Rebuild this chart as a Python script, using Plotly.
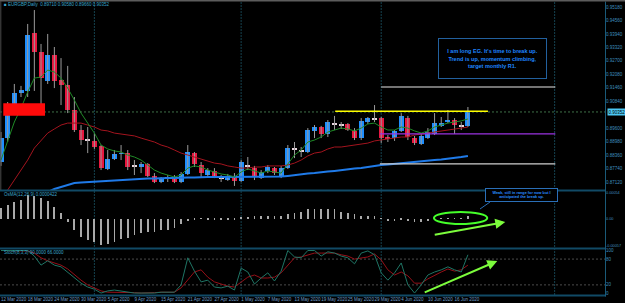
import plotly.graph_objects as go

# ---------------- data ----------------
date_labels = ["12 Mar 2020", "18 Mar 2020", "24 Mar 2020", "30 Mar 2020", "5 Apr 2020",
               "9 Apr 2020", "15 Apr 2020", "21 Apr 2020", "27 Apr 2020", "1 May 2020",
               "7 May 2020", "13 May 2020", "19 May 2020", "25 May 2020", "29 May 2020",
               "4 Jun 2020", "10 Jun 2020", "16 Jun 2020"]
label_every = 4

opens = [0.8805, 0.8915, 0.9072, 0.9122, 0.9132, 0.9398, 0.9311, 0.9178, 0.9297, 0.9182,
         0.9159, 0.9044, 0.8952, 0.8906, 0.8902, 0.8879, 0.8773, 0.8819, 0.8842, 0.8846,
         0.8787, 0.8782, 0.8796, 0.8741, 0.8713, 0.8731, 0.8727, 0.8713, 0.8750, 0.8846,
         0.8791, 0.8745, 0.8764, 0.8731, 0.8722, 0.8736, 0.8718, 0.8787, 0.8777, 0.8731,
         0.8764, 0.8777, 0.8736, 0.8777, 0.8865, 0.8856, 0.8851, 0.8948, 0.8966, 0.8934,
         0.8980, 0.8975, 0.8980, 0.8948, 0.8915, 0.8989, 0.9003, 0.9007, 0.8920, 0.8915,
         0.8948, 0.9007, 0.8915, 0.8888, 0.8915, 0.8934, 0.8975, 0.8989, 0.8998, 0.8971,
         0.8971]
highs = [0.8943, 0.9081, 0.9164, 0.9155, 0.9440, 0.9504, 0.9348, 0.9394, 0.9334, 0.9283,
         0.9247, 0.9104, 0.8975, 0.8966, 0.8938, 0.8883, 0.8860, 0.8860, 0.8883, 0.8860,
         0.8814, 0.8805, 0.8800, 0.8754, 0.8736, 0.8745, 0.8745, 0.8759, 0.8883, 0.8851,
         0.8805, 0.8777, 0.8777, 0.8745, 0.8750, 0.8754, 0.8814, 0.8828, 0.8787, 0.8768,
         0.8791, 0.8782, 0.8787, 0.8883, 0.8897, 0.8874, 0.8961, 0.8975, 0.8971, 0.8998,
         0.9017, 0.8989, 0.8984, 0.8961, 0.9007, 0.9012, 0.9067, 0.9012, 0.8929, 0.8952,
         0.9030, 0.9017, 0.8925, 0.8934, 0.8961, 0.9030, 0.9012, 0.9044, 0.9007, 0.8989,
         0.9058]
lows = [0.8787, 0.8897, 0.9063, 0.9104, 0.9104, 0.9132, 0.9021, 0.9164, 0.9145, 0.9067,
        0.9030, 0.8943, 0.8883, 0.8846, 0.8865, 0.8768, 0.8768, 0.8814, 0.8814, 0.8768,
        0.8745, 0.8754, 0.8736, 0.8708, 0.8708, 0.8713, 0.8708, 0.8708, 0.8745, 0.8782,
        0.8736, 0.8741, 0.8731, 0.8713, 0.8718, 0.8695, 0.8713, 0.8768, 0.8722, 0.8727,
        0.8754, 0.8745, 0.8731, 0.8773, 0.8823, 0.8828, 0.8846, 0.8915, 0.8915, 0.8920,
        0.8952, 0.8957, 0.8948, 0.8906, 0.8906, 0.8980, 0.8989, 0.8892, 0.8897, 0.8902,
        0.8943, 0.8906, 0.8883, 0.8883, 0.8911, 0.8929, 0.8966, 0.8984, 0.8934, 0.8952,
        0.8966]
closes = [0.8915, 0.9063, 0.9122, 0.9136, 0.9389, 0.9311, 0.9191, 0.9297, 0.9178, 0.9159,
          0.9044, 0.8952, 0.8906, 0.8905, 0.8874, 0.8777, 0.8819, 0.8842, 0.8846, 0.8782,
          0.8787, 0.8796, 0.8741, 0.8713, 0.8731, 0.8731, 0.8713, 0.8750, 0.8851, 0.8796,
          0.8754, 0.8768, 0.8736, 0.8731, 0.8741, 0.8718, 0.8805, 0.8787, 0.8736, 0.8759,
          0.8782, 0.8754, 0.8777, 0.8869, 0.8865, 0.8856, 0.8952, 0.8966, 0.8934, 0.8989,
          0.8980, 0.8975, 0.8952, 0.8915, 0.8994, 0.9007, 0.9005, 0.8915, 0.8915, 0.8948,
          0.9017, 0.8920, 0.8892, 0.8925, 0.8943, 0.8984, 0.8984, 0.8998, 0.8975, 0.8971,
          0.90352]

ma_fast = [0.8814, 0.8906, 0.8989, 0.9053, 0.9127, 0.9191, 0.9196, 0.9228, 0.9219, 0.9191,
           0.9145, 0.9090, 0.9030, 0.8984, 0.8938, 0.8883, 0.8865, 0.8856, 0.8851, 0.8837,
           0.8828, 0.8814, 0.8791, 0.8768, 0.8754, 0.8745, 0.8736, 0.8745, 0.8777, 0.8787,
           0.8782, 0.8768, 0.8759, 0.8750, 0.8745, 0.8736, 0.8759, 0.8773, 0.8764, 0.8754,
           0.8764, 0.8759, 0.8754, 0.8796, 0.8837, 0.8860, 0.8897, 0.8906, 0.8920, 0.8943,
           0.8952, 0.8961, 0.8957, 0.8948, 0.8961, 0.8980, 0.8984, 0.8966, 0.8952, 0.8952,
           0.8966, 0.8961, 0.8948, 0.8938, 0.8948, 0.8966, 0.8975, 0.8984, 0.8989, 0.8994,
           0.9003]
ma_mid = [0.8639, 0.8676, 0.8722, 0.8768, 0.8814, 0.8869, 0.8906, 0.8938, 0.8957, 0.8975,
          0.8984, 0.8984, 0.8984, 0.8975, 0.8966, 0.8952, 0.8948, 0.8938, 0.8934, 0.8929,
          0.8925, 0.8915, 0.8906, 0.8897, 0.8883, 0.8874, 0.8860, 0.8846, 0.8837, 0.8828,
          0.8819, 0.8810, 0.8800, 0.8796, 0.8787, 0.8782, 0.8777, 0.8777, 0.8782, 0.8782,
          0.8787, 0.8787, 0.8787, 0.8791, 0.8800, 0.8814, 0.8833, 0.8846, 0.8851, 0.8865,
          0.8874, 0.8874, 0.8879, 0.8883, 0.8888, 0.8892, 0.8902, 0.8906, 0.8911, 0.8915,
          0.8920, 0.8920, 0.8929, 0.8934, 0.8938, 0.8943, 0.8948, 0.8952, 0.8957, 0.8961,
          0.8966]
ma_slow = [0.8492, 0.8515, 0.8538, 0.8566, 0.8593, 0.8621, 0.8644, 0.8667, 0.8681, 0.8690,
           0.8699, 0.8708, 0.8711, 0.8713, 0.8715, 0.8718, 0.8720, 0.8722, 0.8722, 0.8725,
           0.8727, 0.8727, 0.8729, 0.8729, 0.8731, 0.8731, 0.8731, 0.8734, 0.8734, 0.8734,
           0.8736, 0.8736, 0.8736, 0.8736, 0.8736, 0.8736, 0.8736, 0.8736, 0.8736, 0.8736,
           0.8736, 0.8736, 0.8738, 0.8741, 0.8745, 0.8750, 0.8752, 0.8754, 0.8759, 0.8761,
           0.8764, 0.8768, 0.8773, 0.8775, 0.8777, 0.8782, 0.8787, 0.8791, 0.8793, 0.8796,
           0.8800, 0.8805, 0.8805, 0.8810, 0.8812, 0.8814, 0.8816, 0.8819, 0.8823, 0.8828,
           0.8833]

osma = [0.00022, 0.00028, 0.00035, 0.00039, 0.00049, 0.00047, 0.00043, 0.00037, 0.00024, 0.00012,
        -0.00007, -0.00024, -0.00039, -0.00045, -0.00049, -0.00056, -0.00054, -0.00049, -0.00043, -0.00041,
        -0.00035, -0.00030, -0.00028, -0.00028, -0.00024, -0.00024, -0.00020, -0.00012, -0.00005, -0.00003,
        -0.00001, -0.00002, -0.00002, -0.00002, -0.00002, -0.00003, 0.00002, 0.00004, 0.00005, 0.00005,
        0.00005, 0.00006, 0.00006, 0.00009, 0.00012, 0.00014, 0.00019, 0.00021, 0.00021, 0.00021,
        0.00019, 0.00014, 0.00012, 0.00009, 0.00006, 0.00006, 0.00005, 0.00001, -0.00005, -0.00005,
        -0.00003, -0.00005, -0.00007, -0.00007, -0.00006, -0.00002, -0.00001, -0.00001, -0.00001, 0.00001,
        0.0000422]

stoch_main = [100, 100, 99, 100, 100, 87, 66, 76, 66, 62,
              50, 36, 24, 15, 10, 1, 6, 8, 6, 3,
              1, 1, 1, 1, 3, 3, 3, 20, 83, 52,
              27, 31, 15, 13, 17, 8, 59, 50, 22, 36,
              48, 29, 52, 100, 85, 83, 100, 100, 87, 97,
              94, 87, 83, 69, 94, 99, 90, 48, 31, 48,
              71, 20, 1, 20, 43, 50, 55, 62, 55, 50,
              90]
stoch_signal = [100, 100, 100, 100, 99, 94, 83, 76, 71, 66,
                57, 43, 31, 20, 13, 6, 3, 3, 3, 3,
                2, 1, 1, 2, 3, 3, 3, 13, 31, 50,
                55, 38, 27, 22, 17, 15, 27, 38, 43, 36,
                36, 38, 48, 66, 83, 85, 90, 94, 94, 94,
                94, 90, 87, 80, 83, 85, 92, 78, 55, 43,
                50, 41, 24, 24, 34, 43, 50, 57, 52, 55,
                66]

price_ticks = [0.9518, 0.9456, 0.9394, 0.9332, 0.9270, 0.9208, 0.9146, 0.9084,
               0.8960, 0.8898, 0.8836, 0.8774, 0.8712]
osma_ticks = [0.00054, 0.0, -0.00057]
osma_tick_text = ["0.00054", "0.00", "-0.00057"]
stoch_ticks = [100, 80, 20, 0]
stoch_levels = [80, 20]

# drawn objects (chart annotations by the trader)
month_start_bars = [14, 36, 57, 83]
red_zone = dict(x0=0.34, x1=6.6, y0=0.9018, y1=0.9075)
level_lines = [  # (price, from bar, to bar, colour, width)
    (0.9150, 57.0, 83.1, "#e6e6e6", 1),
    (0.9038, 50.1, 73.0, "#ffff00", 1.5),
    (0.8934, 56.8, 83.1, "#9a32e0", 1.2),
    (0.8796, 56.8, 83.1, "#cfcfcf", 1.2),
]

# ---------------- geometry ----------------
W, H = 625, 303
def py(px):  # pixel row -> paper y
    return 1 - px / H

x_dom = [0, 605 / W]
x_rng = [-0.15, 90.55]
main_dom = [py(190), py(2)]
osma_dom = [py(247), py(192)]
stoch_dom = [py(295), py(249.5)]

BLUE = "#1e8fff"
RED = "#e8173f"
DOJI = "#e8d4dc"
AXC = "#3f8fbf"
FONT = "Liberation Sans"

n = len(closes)
idx = list(range(n))

# wicks
wx, wy = [], []
for i in idx:
    wx += [i, i, None]
    wy += [lows[i], highs[i], None]

# bodies
base, height, colors = [], [], []
min_h = 0.0004
for i in idx:
    o, c = opens[i], closes[i]
    d = abs(c - o)
    h = max(d, min_h)
    base.append(min(o, c) - (h - d) / 2)
    height.append(h)
    if d < 0.0003:
        colors.append(DOJI)
    elif c > o:
        colors.append(BLUE)
    else:
        colors.append(RED)

fig = go.Figure()
fig.add_trace(go.Scatter(x=wx, y=wy, mode="lines", line=dict(color="#9a9a9a", width=1),
                         xaxis="x", yaxis="y", hoverinfo="skip"))
fig.add_trace(go.Bar(x=idx, y=height, base=base, width=0.75, marker=dict(color=colors, line=dict(width=0)),
                     xaxis="x", yaxis="y"))
fig.add_trace(go.Scatter(x=idx, y=ma_slow, mode="lines", line=dict(color="#1f7ae8", width=2),
                         xaxis="x", yaxis="y"))
fig.add_trace(go.Scatter(x=idx, y=ma_mid, mode="lines", line=dict(color="#a3141e", width=1),
                         xaxis="x", yaxis="y"))
fig.add_trace(go.Scatter(x=idx, y=ma_fast, mode="lines", line=dict(color="#1f8a26", width=1),
                         xaxis="x", yaxis="y"))

fig.add_trace(go.Bar(x=idx, y=osma, width=0.12, marker=dict(color="#a9a9a9", line=dict(width=0)),
                     xaxis="x2", yaxis="y2"))

fig.add_trace(go.Scatter(x=idx, y=stoch_signal, mode="lines", line=dict(color="#961018", width=1),
                         xaxis="x3", yaxis="y3"))
fig.add_trace(go.Scatter(x=idx, y=stoch_main, mode="lines", line=dict(color="#1f7565", width=1),
                         xaxis="x3", yaxis="y3"))

common_x = dict(domain=x_dom, range=x_rng, showgrid=False, zeroline=False, showline=False,
                fixedrange=True, automargin=False)
common_y = dict(side="right", showgrid=False, zeroline=False, ticks="", automargin=False)
fig.update_layout(
    width=W, height=H, margin=dict(l=0, r=0, t=0, b=0, autoexpand=False),
    paper_bgcolor="black", plot_bgcolor="black", showlegend=False,
    barmode="overlay", bargap=0,
    font=dict(family=FONT, color=AXC, size=4.5),
    xaxis=dict(anchor="y", showticklabels=False, **common_x),
    xaxis2=dict(anchor="y2", showticklabels=False, **common_x),
    xaxis3=dict(anchor="y3", showticklabels=True, ticks="", tickangle=0,
                tickvals=[label_every * k for k in range(len(date_labels))],
                ticktext=date_labels, ticklabelposition="outside right",
                tickfont=dict(size=4.5, color="#6f9fc8"), **common_x),
    yaxis=dict(anchor="x", domain=main_dom, range=[0.86762, 0.9541], tickvals=price_ticks,
               ticktext=[f"{v:.5f}" for v in price_ticks], tickfont=dict(size=4.5, color=AXC), **common_y),
    yaxis2=dict(anchor="x2", domain=osma_dom, range=[-0.0005985, 0.0005565], tickvals=osma_ticks,
                ticktext=osma_tick_text, tickfont=dict(size=3.8, color=AXC), **common_y),
    yaxis3=dict(anchor="x3", domain=stoch_dom, range=[-3.5, 102.3], tickvals=stoch_ticks,
                ticktext=[str(v) for v in stoch_ticks], tickfont=dict(size=4.5, color=AXC), **common_y),
)

shapes = []
# monthly grid separators
for b in month_start_bars:
    shapes.append(dict(type="line", xref="x", yref="paper", x0=b, x1=b, y0=py(295), y1=py(2),
                       line=dict(color="#15424f", width=1, dash="2px,1px"), layer="below"))
# bid line
shapes.append(dict(type="line", xref="paper", yref="y", x0=0, x1=x_dom[1], y0=closes[-1], y1=closes[-1],
                   line=dict(color="#3f7048", width=1, dash="2px,2px")))
# stoch levels
for lv in stoch_levels:
    shapes.append(dict(type="line", xref="paper", yref="y3", x0=0, x1=x_dom[1], y0=lv, y1=lv,
                       line=dict(color="#4a4a4a", width=1, dash="2px,2px"), layer="below"))
# red zone
shapes.append(dict(type="rect", xref="x", yref="y", fillcolor="#ff0a0a", line=dict(width=0), **red_zone))
# level lines
for p, b0, b1, col, wd in level_lines:
    shapes.append(dict(type="line", xref="x", yref="y", x0=b0, x1=b1, y0=p, y1=p,
                       line=dict(color=col, width=wd)))
# panel separators
for px in (190.5, 248.5, 295.5):
    shapes.append(dict(type="line", xref="paper", yref="paper", x0=0, x1=606 / W, y0=py(px), y1=py(px),
                       line=dict(color="#114a66", width=2)))
# right axis line
shapes.append(dict(type="line", xref="paper", yref="paper", x0=605.5 / W, x1=605.5 / W,
                   y0=py(296.5), y1=py(1.5), line=dict(color="#1a5a78", width=1)))
# top border
shapes.append(dict(type="line", xref="paper", yref="paper", x0=0, x1=1, y0=py(0.8), y1=py(0.8),
                   line=dict(color="#5c5c5c", width=1.6)))
# left border (main panel)
shapes.append(dict(type="line", xref="paper", yref="paper", x0=0.8 / W, x1=0.8 / W, y0=py(190), y1=py(1),
                   line=dict(color="#4a4a4a", width=1)))
# green ellipse on OsMA
shapes.append(dict(type="circle", xref="x2", yref="y2", x0=64.9, x1=72.9, y0=-0.000116, y1=0.000137,
                   line=dict(color="#45ff2a", width=2)))
# callout pointer
shapes.append(dict(type="line", xref="paper", yref="paper", x0=480 / W, x1=490 / W, y0=py(209), y1=py(202),
                   line=dict(color="#2a6fb8", width=1)))
fig.update_layout(shapes=shapes)

title_txt = (f"\u25a0 EURGBP,Daily  {opens[-1]:.5f} {highs[-1]:.5f} "
             f"{lows[-1]:.5f} {closes[-1]:.5f}")
ann = [
    dict(xref="paper", yref="paper", x=2 / W, y=py(4.5), xanchor="left", yanchor="middle",
         text=title_txt, showarrow=False, font=dict(size=4.5, color="#3aa6cc")),
    dict(xref="paper", yref="paper", x=2 / W, y=py(194), xanchor="left", yanchor="middle",
         text=f"OsMA(12,26,9) {osma[-1]:.7f}", showarrow=False, font=dict(size=4.5, color="#3aa6cc")),
    dict(xref="paper", yref="paper", x=2 / W, y=py(252.5), xanchor="left", yanchor="middle",
         text=f"Stoch(8,3,3) {stoch_main[-1]:.4f} {stoch_signal[-1]:.4f}", showarrow=False,
         font=dict(size=4.5, color="#3aa6cc")),
    # current price box
    dict(xref="paper", yref="y", x=606.5 / W, y=closes[-1], xanchor="left", yanchor="middle",
         text=f"{closes[-1]:.5f}", showarrow=False, bgcolor="#4cc8f4", borderpad=0.5,
         font=dict(size=4.5, color="#000000")),
    # trader note
    dict(xref="paper", yref="paper", x=492.5 / W, y=py(58.5), xanchor="center", yanchor="middle",
         text="<b>I am long EG. It's time to break up.<br>Trend is up, momentum climbing,<br>target monthly R1.</b>",
         showarrow=False, width=107, height=39, align="center", valign="middle",
         bgcolor="black", bordercolor="#22609e", borderwidth=1, borderpad=0,
         font=dict(size=5.5, color="#1f86ff")),
    dict(xref="paper", yref="paper", x=521.5 / W, y=py(195), xanchor="center", yanchor="middle",
         text="<b>Weak, still in range for now but I<br>anticipated the break up.</b>",
         showarrow=False, width=71, height=12, align="center", valign="middle",
         bgcolor="black", bordercolor="#2a6fb8", borderwidth=1, borderpad=0,
         font=dict(size=3.8, color="#2a8cff")),
    # green arrows
    dict(xref="x2", yref="y2", axref="x2", ayref="y2", x=75.6, y=-0.0000735, ax=64.8, ay=-0.000347,
         text="", showarrow=True, arrowhead=2, arrowsize=1, arrowwidth=2, arrowcolor="#7cfc3c"),
    dict(xref="x3", yref="y3", axref="x3", ayref="y3", x=74.4, y=75.6, ax=63.3, ay=1.2,
         text="", showarrow=True, arrowhead=2, arrowsize=1, arrowwidth=2, arrowcolor="#7cfc3c"),
]
fig.update_layout(annotations=ann)

fig.write_html("out.html")
